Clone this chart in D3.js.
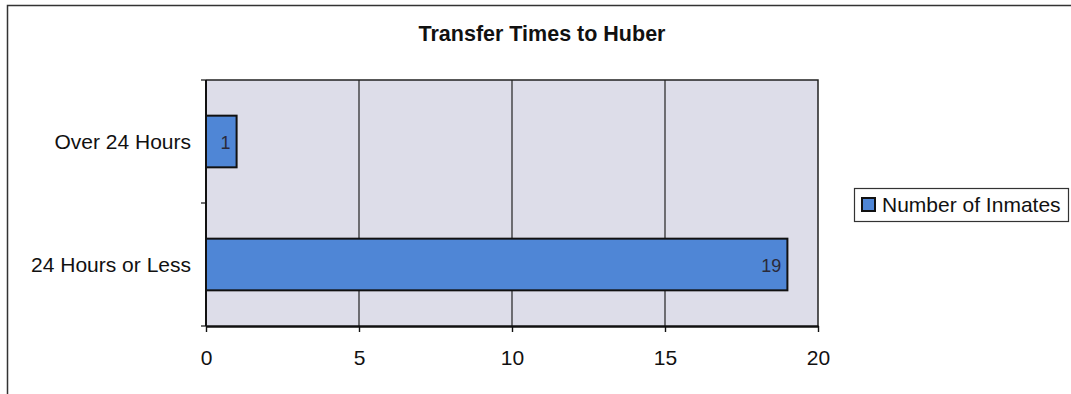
<!DOCTYPE html>
<html>
<head>
<meta charset="utf-8">
<script src="https://cdn.jsdelivr.net/npm/d3@7"></script>
<style>
  html, body { margin: 0; padding: 0; background: #fff; }
  svg { display: block; font-family: "Liberation Sans", Arial, sans-serif; }
</style>
</head>
<body>
<svg id="chart" width="1071" height="394"></svg>
<script>
const categories = ["Over 24 Hours", "24 Hours or Less"];
const values = [1, 19];
const xTicks = [0, 5, 10, 15, 20];
const seriesName = "Number of Inmates";
const title = "Transfer Times to Huber";

const svg = d3.select("#chart");
const W = 1071, H = 394;
const plot = { left: 206, right: 818, top: 80, bottom: 326 };
const FONT = "\"Liberation Sans\", Arial, sans-serif";

// outer frame
svg.append("rect")
  .attr("x", 7.5).attr("y", 5.5)
  .attr("width", W + 10).attr("height", H + 10)
  .attr("fill", "#fff").attr("stroke", "#333").attr("stroke-width", 1.5);

// title
svg.append("text")
  .attr("x", 542).attr("y", 41)
  .attr("text-anchor", "middle")
  .attr("font-size", 21.5).attr("font-weight", "bold")
  .attr("fill", "#111")
  .text(title);

const x = d3.scaleLinear().domain([0, 20]).range([plot.left, plot.right]);
const y = d3.scaleBand().domain(categories).range([plot.top, plot.bottom])
  .paddingInner(0.58).paddingOuter(0.29);

// plot background
svg.append("rect")
  .attr("x", plot.left).attr("y", plot.top)
  .attr("width", plot.right - plot.left).attr("height", plot.bottom - plot.top)
  .attr("fill", "#dddde9");

// gridlines
svg.append("g").selectAll("line")
  .data(xTicks.filter(d => d > 0 && d < 20))
  .join("line")
  .attr("x1", d => x(d)).attr("x2", d => x(d))
  .attr("y1", plot.top).attr("y2", plot.bottom)
  .attr("stroke", "#222").attr("stroke-width", 1.2);

// plot border (top & right)
svg.append("path")
  .attr("d", `M${plot.left},${plot.top}H${plot.right}V${plot.bottom}`)
  .attr("fill", "none").attr("stroke", "#222").attr("stroke-width", 1.5);

// bars
svg.append("g").selectAll("rect")
  .data(categories.map((c, i) => ({ c, v: values[i] })))
  .join("rect")
  .attr("x", x(0))
  .attr("y", d => y(d.c))
  .attr("width", d => x(d.v) - x(0))
  .attr("height", y.bandwidth())
  .attr("fill", "#4f86d6")
  .attr("stroke", "#111").attr("stroke-width", 2);

// bar value labels
svg.append("g").selectAll("text")
  .data(categories.map((c, i) => ({ c, v: values[i] })))
  .join("text")
  .attr("x", d => x(d.v) - 6)
  .attr("y", d => y(d.c) + y.bandwidth() / 2 + 7)
  .attr("text-anchor", "end")
  .attr("font-size", 18)
  .attr("fill", "#2a2a3a")
  .text(d => d.v);

// x axis
const xAxis = svg.append("g")
  .attr("transform", `translate(0,${plot.bottom})`)
  .call(d3.axisBottom(x).tickValues(xTicks).tickSize(6).tickPadding(18).tickSizeOuter(0));
xAxis.select(".domain").attr("stroke", "#111").attr("stroke-width", 2.5);
xAxis.selectAll(".tick line").attr("stroke", "#111").attr("stroke-width", 1.4);
xAxis.selectAll(".tick text")
  .attr("font-size", 21).attr("fill", "#111")
  .attr("font-family", FONT);

// y axis
const yAxis = svg.append("g")
  .attr("transform", `translate(${plot.left},0)`)
  .call(d3.axisLeft(y).tickSize(0).tickPadding(15));
yAxis.select(".domain").remove();
yAxis.selectAll(".tick text")
  .attr("font-size", 21).attr("fill", "#111")
  .attr("font-family", FONT)
  .attr("dy", "0.38em");

// y axis line and category separator ticks
svg.append("line")
  .attr("x1", plot.left).attr("x2", plot.left)
  .attr("y1", plot.top).attr("y2", plot.bottom)
  .attr("stroke", "#111").attr("stroke-width", 2);
const sepTicks = [plot.top, (plot.top + plot.bottom) / 2, plot.bottom];
svg.append("g").selectAll("line")
  .data(sepTicks)
  .join("line")
  .attr("x1", plot.left - 5).attr("x2", plot.left)
  .attr("y1", d => d).attr("y2", d => d)
  .attr("stroke", "#111").attr("stroke-width", 1.2);

// legend
const lg = svg.append("g").attr("transform", "translate(854,188)");
lg.append("rect")
  .attr("x", 0.5).attr("y", 0.5).attr("width", 214).attr("height", 33)
  .attr("fill", "#fff").attr("stroke", "#333").attr("stroke-width", 1.2);
lg.append("rect")
  .attr("x", 8).attr("y", 10).attr("width", 13).attr("height", 13)
  .attr("fill", "#4f86d6").attr("stroke", "#111").attr("stroke-width", 2);
lg.append("text")
  .attr("x", 28).attr("y", 24)
  .attr("font-size", 21).attr("fill", "#111")
  .text(seriesName);
</script>
</body>
</html>
